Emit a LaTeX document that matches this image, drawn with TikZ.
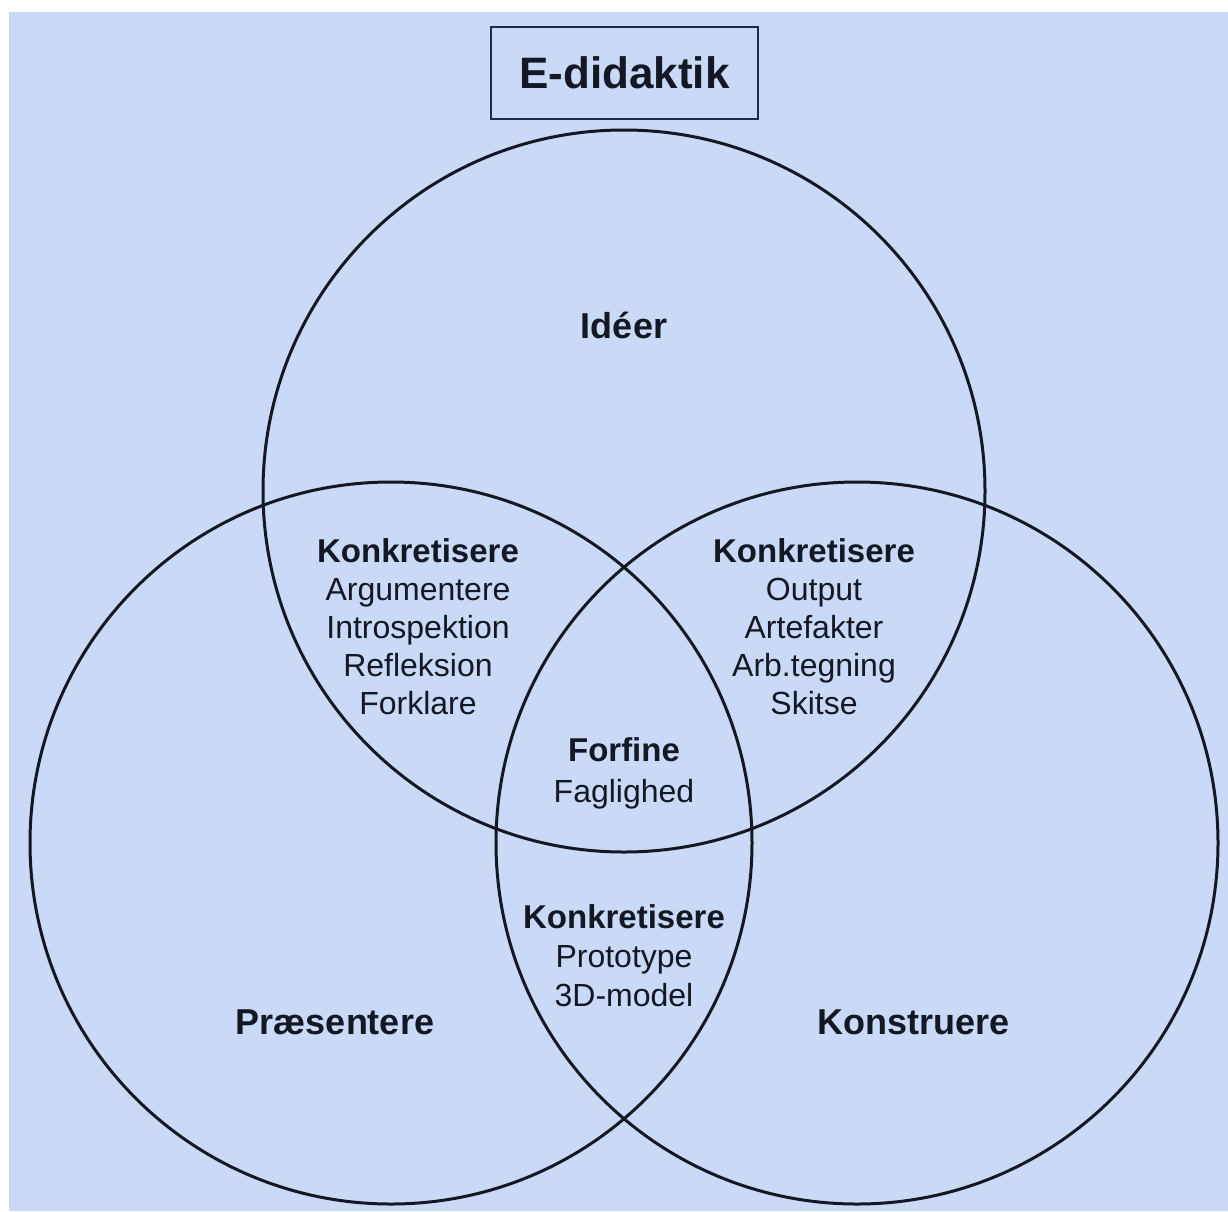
\documentclass[tikz,border=0pt]{standalone}
\usepackage{fontspec}
\setmainfont{Liberation Sans}
\definecolor{bgblue}{HTML}{C9D9F6}
\definecolor{ink}{HTML}{141824}
\definecolor{boxline}{HTML}{1F2A48}
\begin{document}
\begin{tikzpicture}[x=1pt,y=-1pt,
  ring/.style={draw=ink,line width=3pt},
  big/.style={font=\fontsize{36}{42}\selectfont\bfseries,text=ink,inner sep=0pt},
  block/.style={align=center,text=ink,inner sep=0pt,font=\fontsize{32}{38}\selectfont}]
\useasboundingbox (0,0) rectangle (1228,1211);
\fill[white] (0,0) rectangle (1228,1211);
\fill[bgblue] (9,12) rectangle (1228,1211);
% title
\node[draw=boxline,line width=1.8pt,minimum width=267pt,minimum height=92pt,inner sep=0pt,
      font=\fontsize{44}{50}\selectfont\bfseries,text=ink] (title) at (624.5,73) {E-didaktik};
% circles
\draw[ring] (624,491) circle[radius=361pt];
\draw[ring] (391,843) circle[radius=361pt];
\draw[ring] (857,843) circle[radius=361pt];
% labels
\node[big] (ideer) at (624,325) {Idéer};
\node[big] (praes) at (335,1022) {Præsentere};
\node[big] (konst) at (914,1022) {Konstruere};
\node[block] (left) at (418,627) {{\fontsize{33}{38}\selectfont\bfseries Konkretisere}\\Argumentere\\Introspektion\\Refleksion\\Forklare};
\node[block] (right) at (814,627) {{\fontsize{33}{38}\selectfont\bfseries Konkretisere}\\Output\\Artefakter\\Arb.tegning\\Skitse};
\node[block,font=\fontsize{32}{41}\selectfont] (center) at (624,773) {{\fontsize{33}{41}\selectfont\bfseries Forfine}\\Faglighed};
\node[block,font=\fontsize{32}{39}\selectfont] (bottom) at (624,955.5) {{\fontsize{33}{39}\selectfont\bfseries Konkretisere}\\Prototype\\3D-model};
\end{tikzpicture}
\end{document}
